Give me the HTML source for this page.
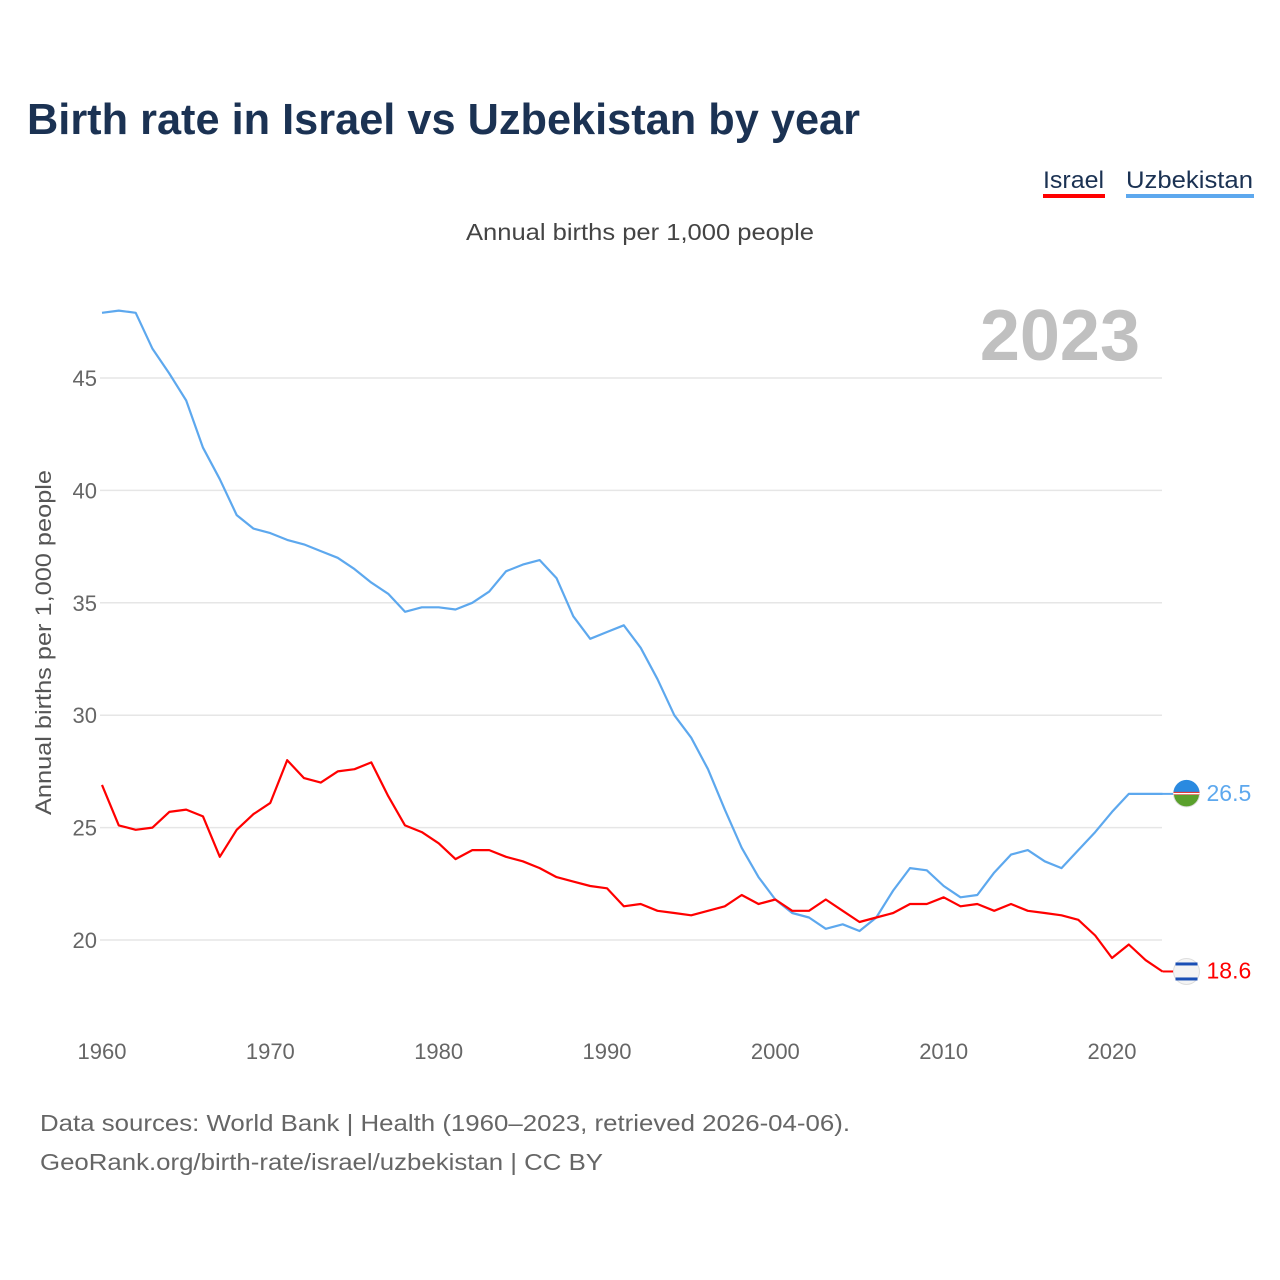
<!DOCTYPE html>
<html><head><meta charset="utf-8">
<style>
body{margin:0;background:#fff;width:1280px;height:1280px;overflow:hidden;font-family:"Liberation Sans",sans-serif}
svg{display:block}
</style></head>
<body>
<svg id="chart" width="1280" height="1280">
<text x="27" y="134" font-size="44" font-weight="bold" fill="#1b3253" textLength="833" lengthAdjust="spacingAndGlyphs">Birth rate in Israel vs Uzbekistan by year</text>
<g>
<text x="1043" y="188" font-size="24" fill="#1b3253" textLength="61" lengthAdjust="spacingAndGlyphs">Israel</text>
<rect x="1043" y="194" width="62" height="4" fill="#ff0000"/>
<text x="1126" y="188" font-size="24" fill="#1b3253" textLength="127" lengthAdjust="spacingAndGlyphs">Uzbekistan</text>
<rect x="1126" y="194" width="128" height="4" fill="#5da8ee"/>
</g>
<text x="466" y="240" font-size="23" fill="#444" textLength="348" lengthAdjust="spacingAndGlyphs">Annual births per 1,000 people</text>
<text x="1140" y="360" font-size="72" font-weight="bold" fill="#c0c0c0" text-anchor="end">2023</text>
<text transform="translate(51,815) rotate(-90)" font-size="22" fill="#555" textLength="345" lengthAdjust="spacingAndGlyphs">Annual births per 1,000 people</text>
<g id="grid"></g><g id="series"></g>
<text x="40" y="1131" font-size="23" fill="#666" textLength="810" lengthAdjust="spacingAndGlyphs">Data sources: World Bank | Health (1960–2023, retrieved 2026-04-06).</text>
<text x="40" y="1170" font-size="23" fill="#666" textLength="563" lengthAdjust="spacingAndGlyphs">GeoRank.org/birth-rate/israel/uzbekistan | CC BY</text>
</svg>
<script>
const years=[];for(let y=1960;y<=2023;y++)years.push(y);
const uzbekistan=[47.9,48.0,47.9,46.3,45.2,44.0,41.9,40.5,38.9,38.3,38.1,37.8,37.6,37.3,37.0,36.5,35.9,35.4,34.6,34.8,34.8,34.7,35.0,35.5,36.4,36.7,36.9,36.1,34.4,33.4,33.7,34.0,33.0,31.6,30.0,29.0,27.6,25.8,24.1,22.8,21.8,21.2,21.0,20.5,20.7,20.4,21.0,22.2,23.2,23.1,22.4,21.9,22.0,23.0,23.8,24.0,23.5,23.2,24.0,24.8,25.7,26.5,26.5,26.5];
const israel=[26.9,25.1,24.9,25.0,25.7,25.8,25.5,23.7,24.9,25.6,26.1,28.0,27.2,27.0,27.5,27.6,27.9,26.4,25.1,24.8,24.3,23.6,24.0,24.0,23.7,23.5,23.2,22.8,22.6,22.4,22.3,21.5,21.6,21.3,21.2,21.1,21.3,21.5,22.0,21.6,21.8,21.3,21.3,21.8,21.3,20.8,21.0,21.2,21.6,21.6,21.9,21.5,21.6,21.3,21.6,21.3,21.2,21.1,20.9,20.2,19.2,19.8,19.1,18.6];
const yTicks=[20,25,30,35,40,45];
const xTicks=[1960,1970,1980,1990,2000,2010,2020];
const NS="http://www.w3.org/2000/svg";
const xS=y=>102+(y-1960)*(1010/60);
const yS=v=>940-(v-20)*(562/25);
const grid=document.getElementById('grid'),ser=document.getElementById('series');
function mk(tag,attrs,parent){const e=document.createElementNS(NS,tag);for(const k in attrs)e.setAttribute(k,attrs[k]);parent.appendChild(e);return e;}
yTicks.forEach(t=>{
 const l=mk('line',{x1:100,x2:1162,y1:yS(t),y2:yS(t),stroke:'#e6e6e6','stroke-width':1.5},grid);
 
 
 const tx=mk('text',{x:97,y:yS(t)+8,'font-size':22,fill:'#666','text-anchor':'end'},grid);tx.textContent=t;
 
 
});
xTicks.forEach(t=>{
 const tx=mk('text',{x:xS(t),y:1059,'font-size':22,fill:'#666','text-anchor':'middle'},grid);tx.textContent=t;
 
 
});
function line(vals,color,name){
 const d=vals.map((v,i)=>(i?'L':'M')+xS(years[i]).toFixed(1)+','+yS(v).toFixed(1)).join('');
 const p=mk('path',{d:d,fill:'none',stroke:color,'stroke-width':2.2,'stroke-linejoin':'round'},ser);
 
 
 const last=vals[vals.length-1],lx=xS(years[years.length-1]),ly=yS(last);
 const c=mk('line',{x1:lx,x2:lx+12,y1:ly,y2:ly,stroke:color,'stroke-width':2},ser);
 
 
 const f=mk('circle',{cx:lx+24,cy:ly,r:13,fill:name==='israel'?'#f4f4f4':'#5aa02c',stroke:'#ddd'},ser);
 
 
 if(name==='israel'){
  mk('rect',{x:lx+13,y:ly-9,width:22,height:3,fill:'#1a4fb5'},ser);
  mk('rect',{x:lx+13,y:ly+6,width:22,height:3,fill:'#1a4fb5'},ser);
 }else{
  mk('path',{d:`M${lx+11},${ly-1}A13,13 0 0 1 ${lx+37},${ly-1}Z`,fill:'#2a8ae0'},ser);
  mk('rect',{x:lx+11,y:ly-2,width:26,height:3,fill:'#d22'},ser);
  mk('rect',{x:lx+11,y:ly-1,width:26,height:1.5,fill:'#fff'},ser);
 }
 const t=mk('text',{x:lx+44,y:ly+7,'font-size':23,fill:color},ser);t.textContent=last.toFixed(1);
 
 
}
line(uzbekistan,'#5da8ee','uzbekistan');
line(israel,'#ff0000','israel');
</script>
</body></html>
